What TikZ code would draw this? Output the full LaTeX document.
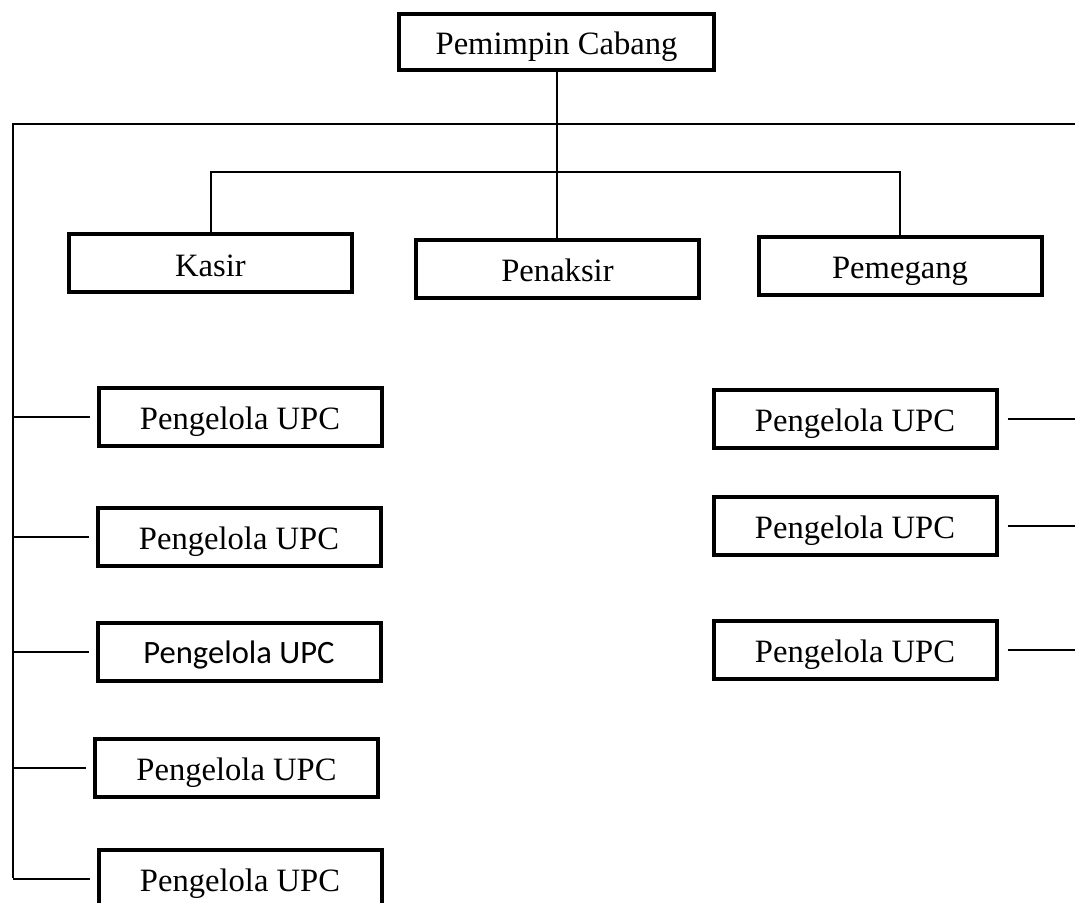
\documentclass[tikz,border=0pt]{standalone}
\usepackage{fontspec}
\setmainfont{Liberation Serif}
\newfontfamily\carlito{Carlito}
\usetikzlibrary{positioning}

\begin{document}
\begin{tikzpicture}[x=0.5pt,y=-0.5pt]
\tikzstyle{every node}+=[inner sep=0pt]
\tikzstyle{box}=[draw=black, line width=2pt, minimum width=141.5pt, minimum height=29pt, text height=12.6pt, text depth=0pt, font=\fontsize{16.3}{19}\selectfont]
\tikzstyle{link}=[black, line width=1pt]
\useasboundingbox (0,0) rectangle (1075,903);
\clip (0,0) rectangle (1075,903);
% top
\node [box, minimum width=157.5pt, minimum height=28pt] (pc) at (556.5,42) {Pemimpin Cabang};
% second level
\node [box] (ks) at (210.5,263.5) {Kasir};
\node [box] (pk) at (557.5,269) {Penaksir};
\node [box] (pm) at (900,266) {Pemegang};
% left column
\node [box] (l1) at (240,417) {Pengelola UPC};
\node [box] (l2) at (239,537) {Pengelola UPC};
\node [box, text height=11pt] (l3) at (239,652) {\carlito Pengelola UPC};
\node [box] (l4) at (236.5,768) {Pengelola UPC};
\node [box] (l5) at (240,879) {Pengelola UPC};
% right column
\node [box] (r1) at (855,419) {Pengelola UPC};
\node [box] (r2) at (855,526) {Pengelola UPC};
\node [box] (r3) at (855,650) {Pengelola UPC};
% lines
\coordinate (topleft) at (13,124);
\coordinate (topright) at (1075,124);
\coordinate (busend) at (13,878);
\coordinate (bar) at (557,172);
\draw [link] (busend) -- (topleft) -- (topright);
\draw [link] (pc.south) -- (pc.south |- pk.north);
\draw [link] (ks.north) |- (bar) -| (pm.north);
\foreach \n in {1,...,5}
  \draw [link] (topleft |- l\n.west) -- ([xshift=-3.5pt]l\n.west);
\foreach \n in {1,...,3}
  \draw [link] ([xshift=4.5pt]r\n.east) -- (topright |- r\n.east);
\end{tikzpicture}
\end{document}
